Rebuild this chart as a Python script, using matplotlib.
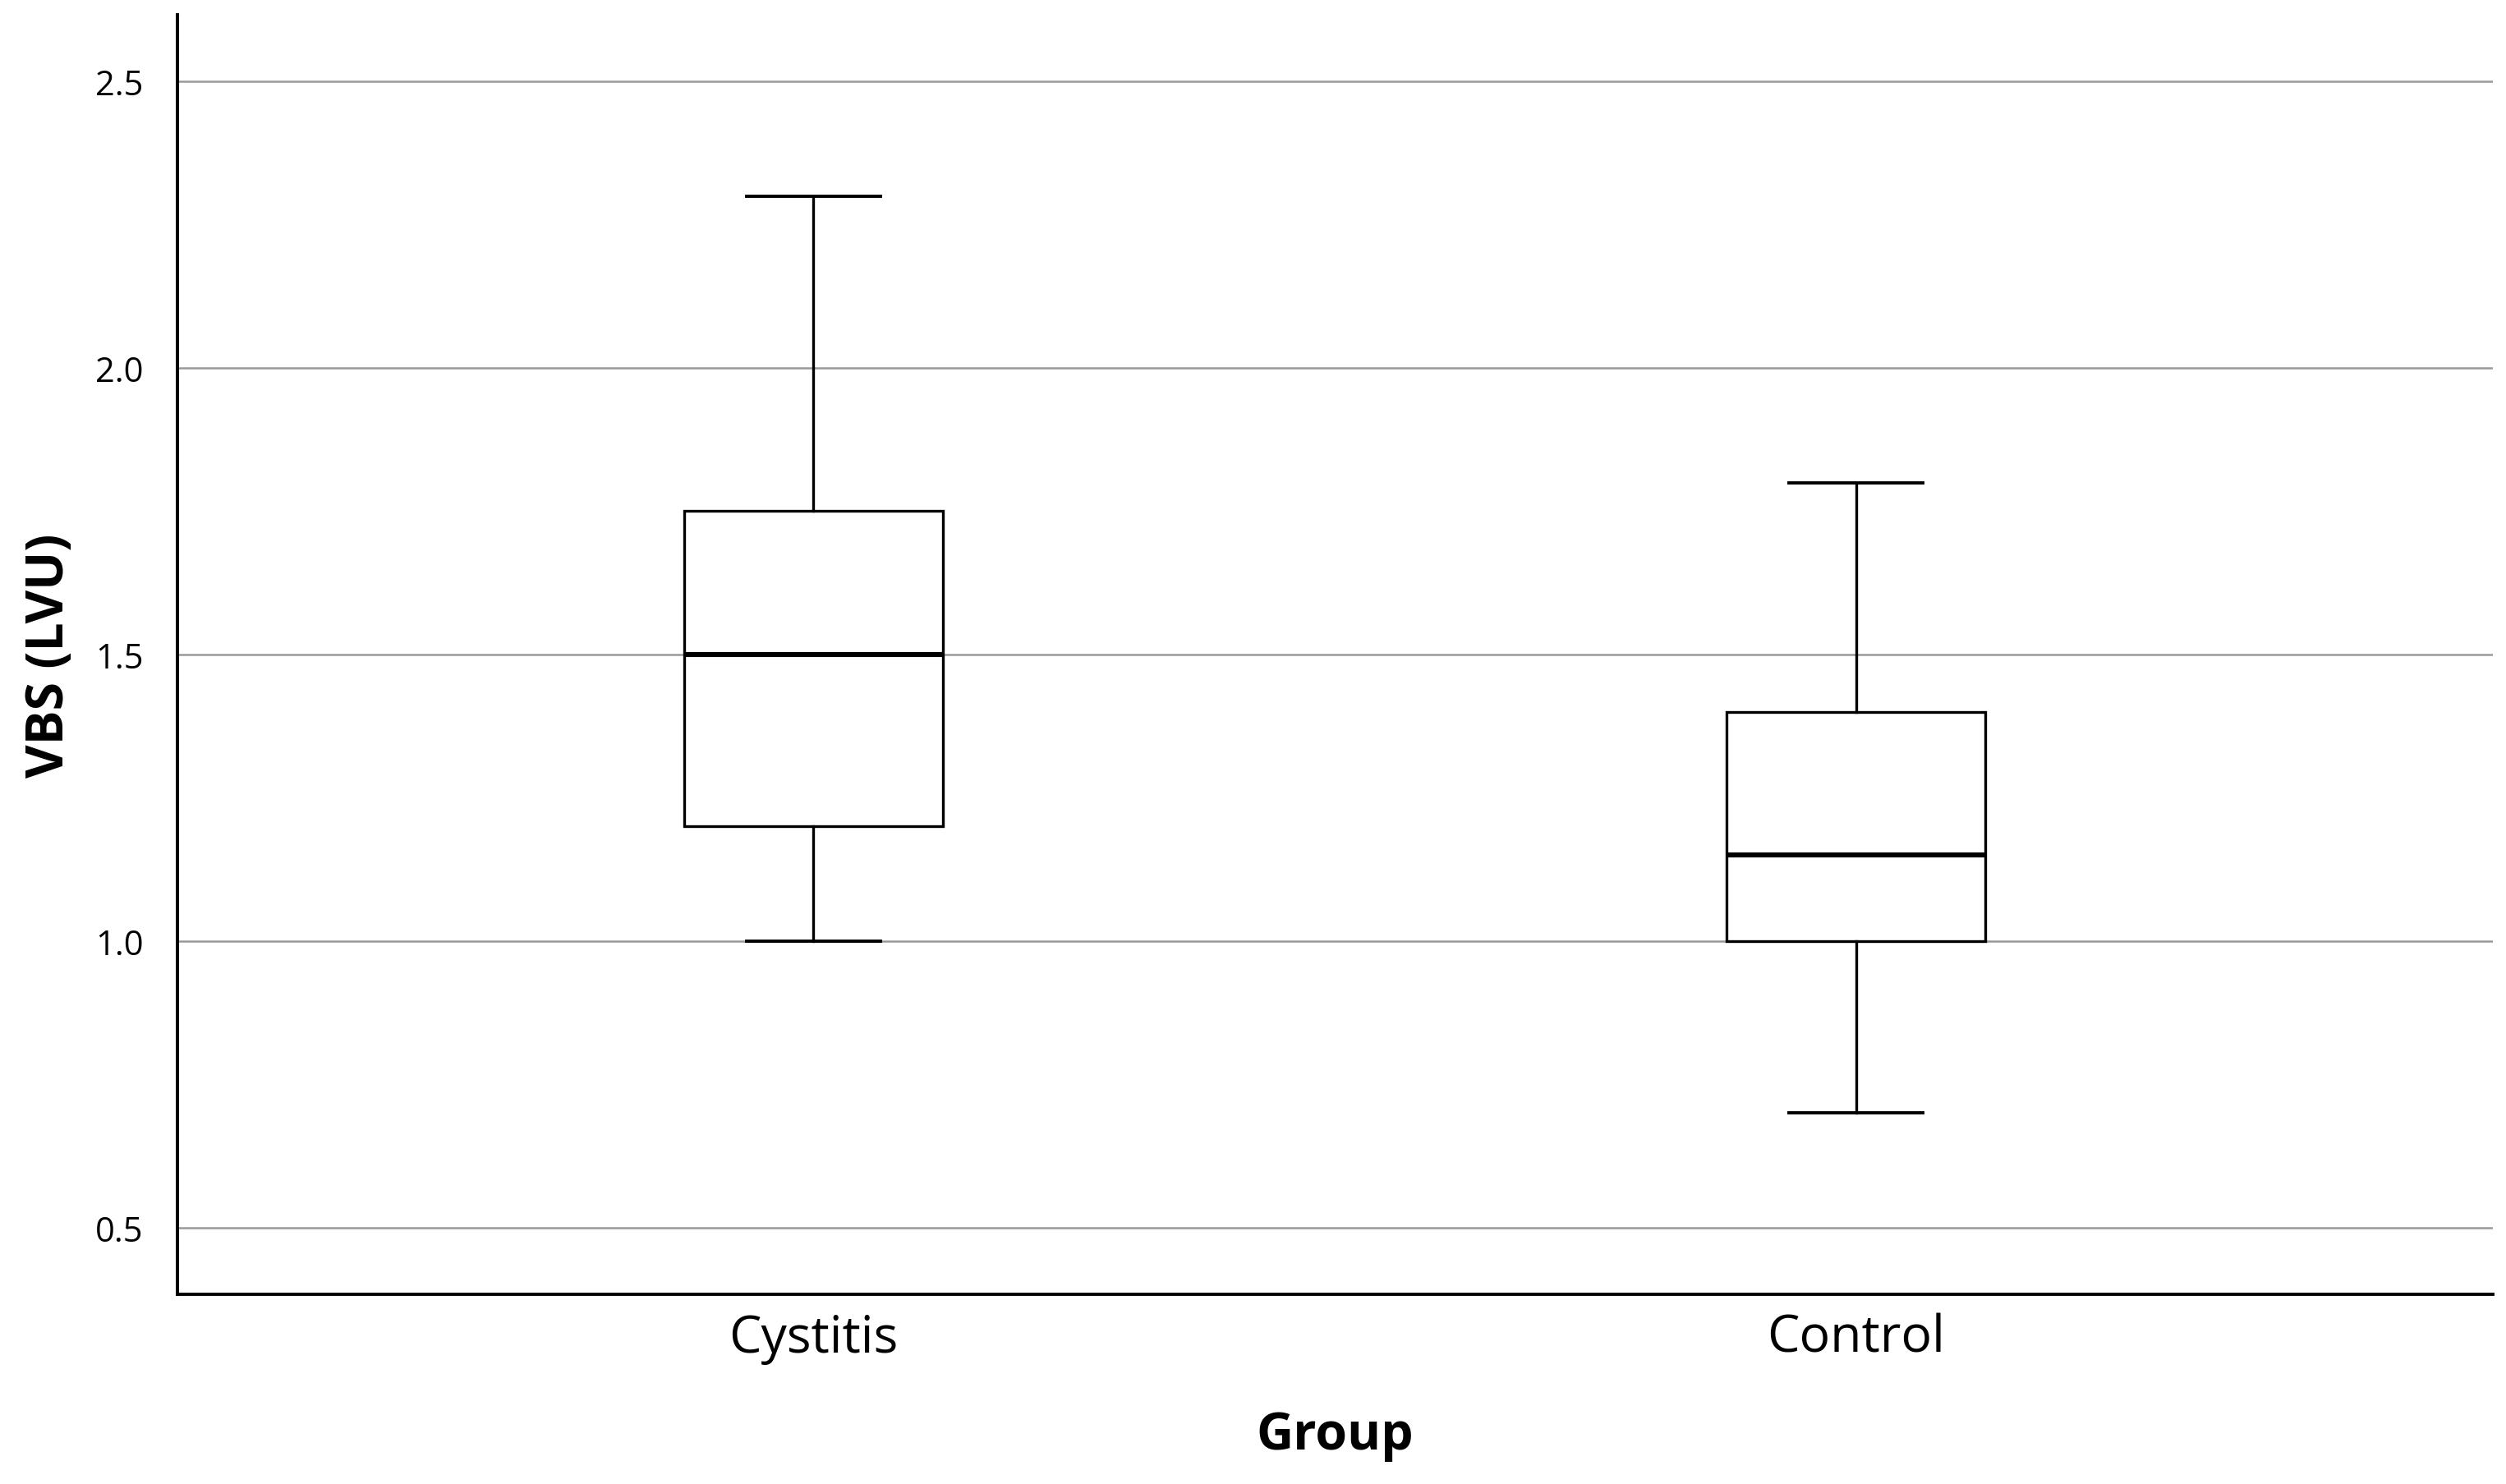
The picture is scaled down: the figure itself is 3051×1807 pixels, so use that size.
import matplotlib.pyplot as plt

plt.rcParams['font.family'] = ['Open Sans', 'DejaVu Sans']

groups = ["Cystitis", "Control"]
whisker_low = [1.0, 0.7]
q1 = [1.2, 1.0]
median = [1.5, 1.15]
q3 = [1.75, 1.4]
whisker_high = [2.3, 1.8]
yticks = [0.5, 1.0, 1.5, 2.0, 2.5]

stats = []
for i, g in enumerate(groups):
    stats.append({"label": g, "whislo": whisker_low[i], "q1": q1[i],
                  "med": median[i], "q3": q3[i], "whishi": whisker_high[i],
                  "fliers": []})

fig = plt.figure(figsize=(15.255, 9.04), dpi=200)
ax = fig.add_axes([0.0708, 0.1278, 0.924, 0.8617])

ax.bxp(stats, positions=[1, 2], widths=0.248, patch_artist=True,
       showfliers=False, zorder=3,
       boxprops=dict(facecolor='white', edgecolor='black', linewidth=1.2),
       medianprops=dict(color='black', linewidth=2.2),
       whiskerprops=dict(color='black', linewidth=1.2),
       capprops=dict(color='black', linewidth=1.4),
       capwidths=0.128)

ax.set_xlim(0.39, 2.611)
ax.set_ylim(0.384, 2.616)
ax.set_yticks(yticks)
ax.set_yticklabels([f"{v:.1f}" for v in yticks])
ax.yaxis.grid(True, color='#999999', linewidth=0.9, zorder=0)
ax.set_axisbelow(True)

for s in ['top', 'right']:
    ax.spines[s].set_visible(False)
for s in ['left', 'bottom']:
    ax.spines[s].set_linewidth(1.4)

ax.tick_params(axis='y', length=0, pad=15, labelsize=15)
ax.tick_params(axis='x', length=0, pad=8, labelsize=22.5)

ax.set_xlabel("Group", fontsize=22.5, fontweight='bold')
ax.set_ylabel("VBS (LVU)", fontsize=22.5, fontweight='bold')
ax.xaxis.set_label_coords(0.5, -0.090)
ax.yaxis.set_label_coords(-0.044, 0.5)

fig.savefig("out.png", dpi=200)
